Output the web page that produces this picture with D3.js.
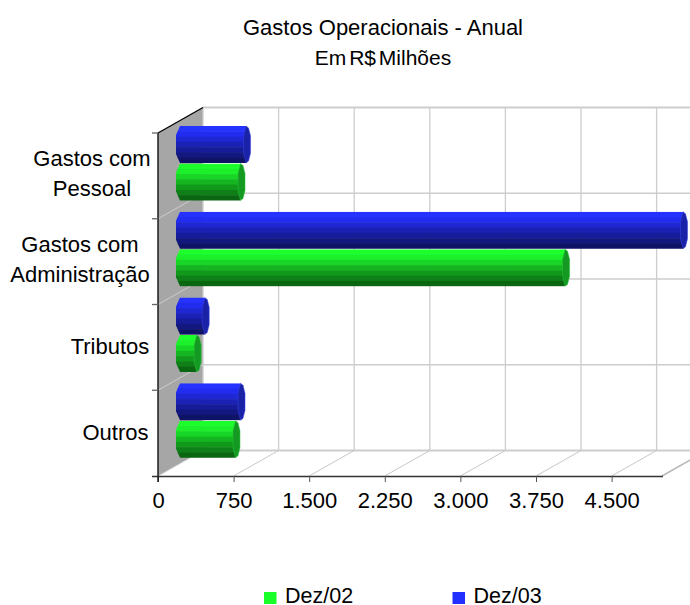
<!DOCTYPE html>
<html><head><meta charset="utf-8">
<script src="https://cdn.jsdelivr.net/npm/d3@7"></script>
<style>html,body{margin:0;background:#fff}svg{display:block}text{font-family:"Liberation Sans",Arial,sans-serif;fill:#000}</style>
</head><body><svg id="c" width="690" height="605"></svg>
<script>
const categories=["Gastos com Pessoal","Gastos com Administração","Tributos","Outros"];
const categoryLines=[["Gastos com","Pessoal"],["Gastos com","Administração"],["Tributos"],["Outros"]];
const labelCenters=[92,80,110,115.5];
const dez02=[640,3860,205,590];
const dez03=[695,5030,285,640];
const seriesNames=["Dez/02","Dez/03"];
const seriesColors=["#1aff2a","#2230ff"];
const tickValues=[0,750,1500,2250,3000,3750,4500];
const tickLabels=["0","750","1.500","2.250","3.000","3.750","4.500"];
const titleLines=["Gastos Operacionais - Anual","Em R$ Milhões"];
const titleWordSpacing=[0,-3];
const bandsGreen=["#1dff2d","#1bf02a","#18d626","#14b520","#11991b","#0e8017","#0b6612"];
const bandsBlue=["#2632ff","#222cf0","#1e27d2","#1a21b4","#161c98","#13187e","#0f1366"];

const svg=d3.select("#c");
const x=d3.scaleLinear().domain([0,5000]).range([158,662]);
const y=d3.scaleBand().domain(categories).range([133,476]);
const dx=45,dy=-25.5;
const backTop=133+dy,backBot=476+dy;
const grid="#cdcdcd";

svg.append("path").attr("d",`M158,133L203,${backTop}V${backBot}L158,476Z`).attr("fill","#a6a6a6");
const xGrid=tickValues.concat([5000]);
svg.selectAll(".gv").data(xGrid).join("line").attr("x1",d=>x(d)+dx).attr("x2",d=>x(d)+dx)
 .attr("y1",backTop).attr("y2",backBot).attr("stroke",grid).attr("stroke-width",1.3);
const rows=categories.map(c=>y(c)+y.bandwidth()).slice(0,3);
svg.selectAll(".gh").data(rows).join("line").attr("x1",203).attr("x2",690).attr("y1",d=>d+dy).attr("y2",d=>d+dy).attr("stroke",grid).attr("stroke-width",1.3);
[backTop,backBot].forEach(v=>svg.append("line").attr("x1",203).attr("x2",690).attr("y1",v).attr("y2",v).attr("stroke",grid).attr("stroke-width",2));
svg.selectAll(".gd").data(rows.concat([476])).join("line").attr("x1",158).attr("x2",203).attr("y1",d=>d).attr("y2",d=>d+dy).attr("stroke","#cdcdcd").attr("stroke-width",1);
svg.append("line").attr("x1",158).attr("x2",203).attr("y1",133).attr("y2",backTop).attr("stroke","#000").attr("stroke-width",1.3);
svg.selectAll(".fd").data(xGrid.slice(1)).join("line").attr("x1",d=>x(d)).attr("x2",d=>x(d)+dx).attr("y1",476).attr("y2",476+dy)
 .attr("stroke",d=>d===5000?"#b8b8b8":"#c8c8c8").attr("stroke-width",d=>d===5000?1.5:1);

function bar(val,top,bands,cap,edge){
 const h=37,x0=176,len=x(val)-158,x1=x0+len,n=bands.length,ch=4;
 const g=svg.append("g");
 const id="clip"+Math.round(top);
 g.append("clipPath").attr("id",id).append("path").attr("d",`M${x0+ch},${top}H${x1}V${top+h}H${x0+ch}L${x0},${top+h-9}V${top+9}Z`);
 const b=g.append("g").attr("clip-path",`url(#${id})`);
 bands.forEach((c,i)=>b.append("rect").attr("x",x0).attr("width",len+2).attr("y",top+i*h/n).attr("height",h/n+.5).attr("fill",c));
 g.append("path").attr("d",`M${x1},${top}L${x1+2.5},${top+2}L${x1+4.5},${top+10}V${top+h-10}L${x1+2.5},${top+h-2}L${x1},${top+h}L${x1-2.5},${top+h-10}V${top+10}Z`).attr("fill",cap).attr("stroke",edge).attr("stroke-width",.5);
}
categories.forEach((c,i)=>{
 const t=y(c)-7;
 bar(dez03[i],t,bandsBlue,"#1a23a8","#3a44e0");
 bar(dez02[i],t+37.5,bandsGreen,"#149a22","#2cc23a");
});

const ax=svg.append("g").attr("transform","translate(0,476)").call(d3.axisBottom(x).tickValues(tickValues).tickFormat((d,i)=>tickLabels[i]).tickSize(6).tickPadding(10.5));
ax.select(".domain").attr("stroke","#333").attr("stroke-width",1.3).attr("d","M152,0.5H663");
ax.selectAll(".tick line").attr("stroke","#555");
ax.selectAll("text").attr("font-size",22).style("font-family",'"Liberation Sans"');
svg.append("line").attr("x1",158).attr("x2",158).attr("y1",133).attr("y2",482).attr("stroke","#111").attr("stroke-width",1.4);
svg.selectAll(".ct").data(rows.concat([133])).join("line").attr("x1",152).attr("x2",158)
 .attr("y1",d=>d).attr("y2",d=>d).attr("stroke","#666").attr("stroke-width",1.3);

categories.forEach((c,i)=>{
 const ls=categoryLines[i],cy=y(c)+y.bandwidth()/2+(ls.length==1?7:5);
 const t=svg.append("text").attr("text-anchor","middle").attr("font-size",22);
 ls.forEach((l,j)=>t.append("tspan").attr("x",labelCenters[i]).attr("y",cy+(j-(ls.length-1)/2)*30).text(l));
});

titleLines.forEach((l,i)=>svg.append("text").attr("x",383).attr("y",35+i*30).attr("text-anchor","middle").attr("font-size",i?21:22).attr("word-spacing",titleWordSpacing[i]).text(l));

const lx=[264,452.5];
seriesNames.forEach((s,i)=>{
 svg.append("rect").attr("x",lx[i]).attr("y",592).attr("width",12.5).attr("height",12).attr("fill",seriesColors[i]);
 svg.append("text").attr("x",lx[i]+21).attr("y",602.5).attr("font-size",21.5).text(s);
});
</script></body></html>
